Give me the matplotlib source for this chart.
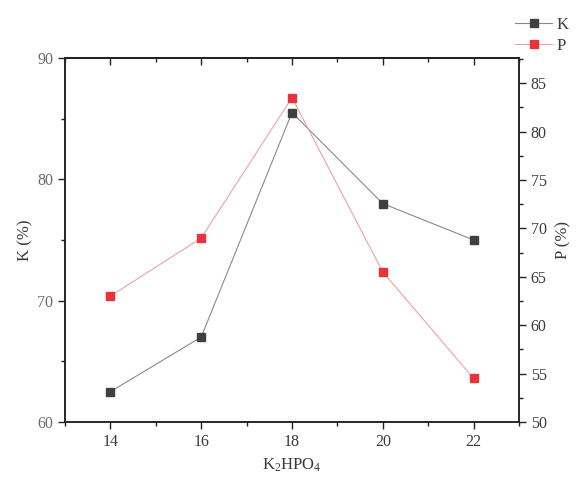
import matplotlib
matplotlib.use("Agg")
import matplotlib.pyplot as plt
from matplotlib.ticker import MultipleLocator
from matplotlib.lines import Line2D

plt.rcParams['font.family'] = ['Liberation Serif', 'DejaVu Serif']
plt.rcParams['mathtext.fontset'] = 'custom'
plt.rcParams['mathtext.rm'] = 'Liberation Serif'
plt.rcParams['mathtext.it'] = 'Liberation Serif:italic'

x = [14, 16, 18, 20, 22]
k_vals = [62.5, 67.0, 85.5, 78.0, 75.0]
p_vals = [63.0, 69.0, 83.5, 65.5, 54.5]

text_col = '#3a3a3a'
left_col = '#6a6a6a'
fig = plt.figure(figsize=(5.79, 4.83), dpi=100)
ax = fig.add_axes([65/579, 1-422/483, (519-65)/579, (422-58)/483])
ax2 = ax.twinx()

ax.plot(x, k_vals, color='#8a8a8a', lw=0.8, marker='s', ms=6,
        mfc='#404040', mec='#404040', zorder=3)
ax2.plot(x, p_vals, color='#f2a0a4', lw=0.8, marker='s', ms=6,
         mfc='#e8333b', mec='#e8333b', zorder=3)

ax.set_xlim(13, 23)
ax.set_ylim(60, 90)
ax2.set_ylim(50, 87.6)

ax.xaxis.set_major_locator(MultipleLocator(2))
ax.xaxis.set_minor_locator(MultipleLocator(1))
ax.yaxis.set_major_locator(MultipleLocator(10))
ax.yaxis.set_minor_locator(MultipleLocator(5))
ax2.yaxis.set_major_locator(MultipleLocator(5))
ax2.yaxis.set_minor_locator(MultipleLocator(2.5))

for a in (ax, ax2):
    for s in a.spines.values():
        s.set_linewidth(1.1)
        s.set_color('#222222')

ax.tick_params(axis='both', which='major', direction='out', length=5, width=1,
               labelsize=11.5, labelcolor=text_col, color='#222222')
ax.tick_params(axis='y', which='major', labelcolor=left_col)
ax.tick_params(axis='both', which='minor', direction='out', length=3, width=1, color='#222222')
ax.tick_params(axis='x', which='both', top=False)
ax2.tick_params(axis='y', which='major', direction='out', length=5, width=1,
                labelsize=11.5, labelcolor=text_col, color='#222222')
ax2.tick_params(axis='y', which='minor', direction='out', length=3, width=1, color='#222222')

# top ticks inward
sec = ax.secondary_xaxis('top')
sec.set_xticks(x)
sec.xaxis.set_minor_locator(MultipleLocator(1))
sec.tick_params(which='major', direction='in', length=5, width=1, labeltop=False, color='#222222')
sec.tick_params(which='minor', direction='in', length=3, width=1, color='#222222')
sec.spines['top'].set_linewidth(1.1)

ax.set_xlabel('K$_2$HPO$_4$', fontsize=12, color=text_col, labelpad=5)
ax.set_ylabel('K (%)', fontsize=12, color=text_col, labelpad=3)
ax2.set_ylabel('P (%)', fontsize=12, color=text_col, labelpad=6)

handles = [Line2D([], [], color='#8a8a8a', lw=0.8, marker='s', ms=6, mfc='#404040', mec='#404040'),
           Line2D([], [], color='#f2a0a4', lw=0.8, marker='s', ms=6, mfc='#e8333b', mec='#e8333b')]
fig.legend(handles, ['K', 'P'], loc='upper right', bbox_to_anchor=(1.0, 0.985),
           frameon=False, fontsize=12, handlelength=2.2, handletextpad=0.3,
           labelspacing=0.3, borderaxespad=0.2, labelcolor=text_col)

fig.savefig('out.png', dpi=100)
